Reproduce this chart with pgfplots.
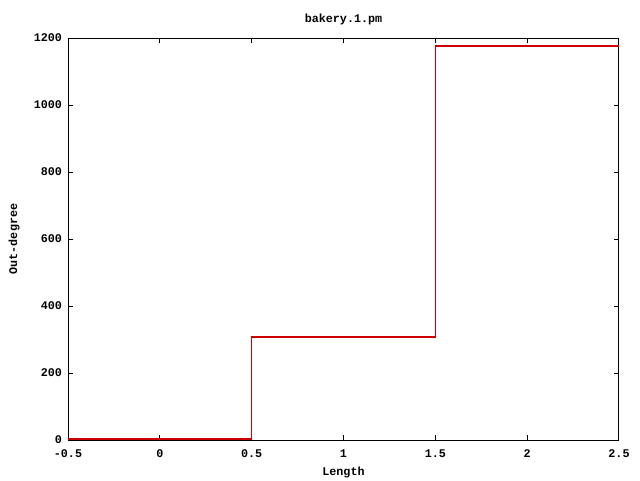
\documentclass[border=0pt]{standalone}
\usepackage{fontspec}
\setmainfont{Liberation Mono}
\usepackage{pgfplots}
\pgfplotsset{compat=1.18}
\definecolor{gpred}{RGB}{204,0,0}
\begin{document}
\begin{tikzpicture}[x=1pt,y=1pt]
\useasboundingbox (0,0) rectangle (480,360);
\fill[white] (0,0) rectangle (480,360);
\begin{axis}[
  at={(51pt,30pt)}, anchor=south west,
  scale only axis, width=413.25pt, height=301.5pt,
  xmin=-0.5, xmax=2.5, ymin=0, ymax=1200,
  xtick={-0.5,0,0.5,1,1.5,2,2.5},
  ytick={0,200,400,600,800,1000,1200},
  scaled ticks=false,
  /pgf/number format/assume math mode=true,
  /pgf/number format/1000 sep={},
  tick align=inside, major tick length=4pt,
  tick style={black, line width=0.75pt},
  axis line style={black, line width=0.75pt},
  font=\fontsize{8.8}{10}\selectfont\bfseries,
  tick label style={font=\fontsize{8.8}{10}\selectfont\bfseries},
  xticklabel style={yshift=-4pt},
  yticklabel style={xshift=-1pt},
  title={bakery.1.pm},
  xlabel={Length},
  ylabel={Out-degree},
  title style={at={(axis description cs:0.5,1.0274)}, anchor=center},
  xlabel style={at={(axis description cs:0.5,-0.0796)}, anchor=center},
  ylabel style={at={(axis description cs:-0.098,0.5)}, anchor=center},
]
\addplot[draw=red!80!black, line width=1.2pt, mark=none]
  coordinates {(-0.5,3) (0.5,3) (0.5,307) (1.5,307) (1.5,1176) (2.5,1176)};
\end{axis}
\end{tikzpicture}
\end{document}
